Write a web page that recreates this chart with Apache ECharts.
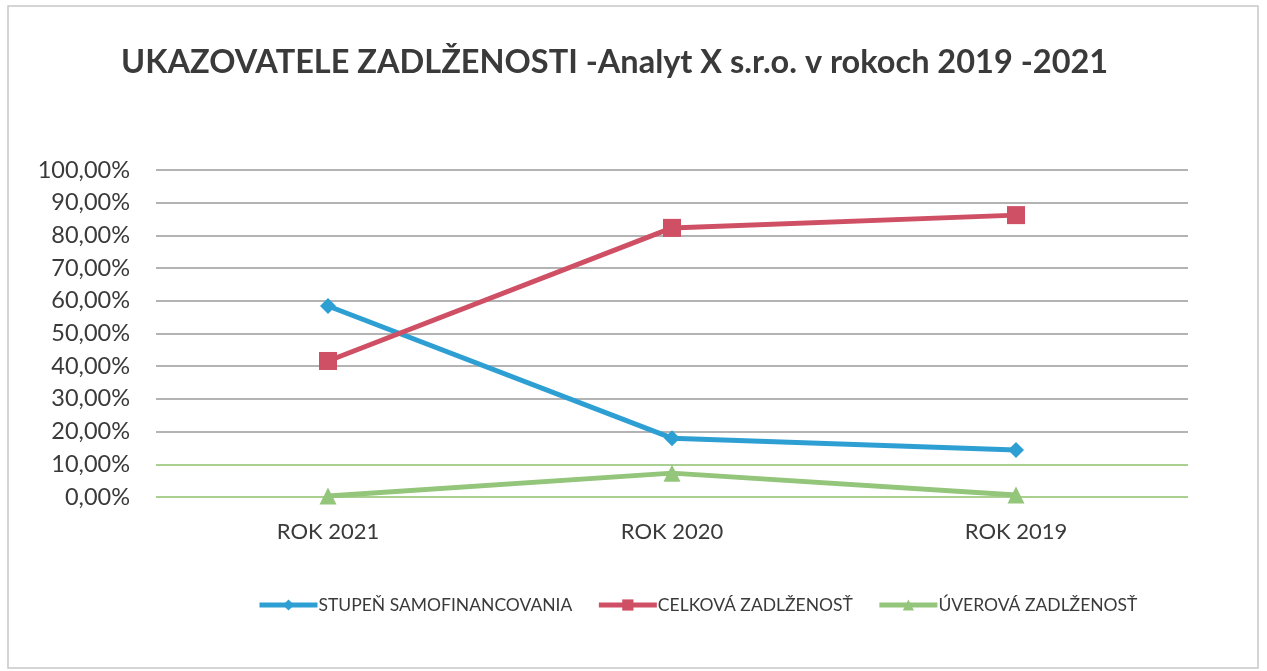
<!DOCTYPE html>
<html>
<head>
<meta charset="utf-8">
<title>Ukazovatele zadlženosti</title>
<script src="https://cdn.jsdelivr.net/npm/echarts@6/dist/echarts.min.js"></script>
<style>
  html, body { margin: 0; padding: 0; background: #fff; }
  #chart { width: 1267px; height: 671px; }
</style>
</head>
<body>
<div id="chart"></div>
<script>
var categories = ['ROK 2021', 'ROK 2020', 'ROK 2019'];
var samofinancovanie = [58.4, 18.0, 14.4];
var celkovaZadlzenost = [41.6, 82.3, 86.2];
var uverovaZadlzenost = [0.3, 7.3, 0.6];

var seriesNames = ['STUPEŇ SAMOFINANCOVANIA', 'CELKOVÁ ZADLŽENOSŤ', 'ÚVEROVÁ ZADLŽENOSŤ'];

function pct(v) {
    return v.toFixed(2).replace('.', ',') + '%';
}

var chart = echarts.init(document.getElementById('chart'));

// gray gridlines, the 0 % and 10 % ones look green in the scan
var gridColors = ['#8dc16b', '#8dc16b', '#9a9a9a', '#9a9a9a', '#9a9a9a', '#9a9a9a',
    '#9a9a9a', '#9a9a9a', '#9a9a9a', '#9a9a9a', '#9a9a9a'];

var option = {
    backgroundColor: '#fff',
    animation: false,
    textStyle: { fontFamily: 'Lato' },
    title: {
        text: 'UKAZOVATELE ZADLŽENOSTI -Analyt X s.r.o. v rokoch 2019 -2021',
        left: 116,
        top: 41,
        textStyle: {
            fontFamily: 'Lato',
            fontWeight: 'bold',
            fontSize: 32.5,
            color: '#3a3a3a'
        }
    },
    legend: {
        bottom: 52,
        left: 252,
        itemWidth: 58,
        itemHeight: 14,
        itemGap: 24,
        lineStyle: { width: 5 },
        textStyle: { fontFamily: 'Lato', fontSize: 17.5, color: '#3a3a3a', padding: [0, 0, 0, -4] },
        data: seriesNames
    },
    grid: {
        left: 156,
        right: 79,
        top: 170,
        bottom: 174,
        containLabel: false
    },
    xAxis: {
        type: 'category',
        data: categories,
        boundaryGap: true,
        axisLine: { show: false },
        axisTick: { show: false },
        axisLabel: { fontFamily: 'Lato', fontSize: 22, color: '#3a3a3a', margin: 24 }
    },
    yAxis: {
        type: 'value',
        min: 0,
        max: 100,
        interval: 10,
        axisLine: { show: false },
        axisTick: { show: false },
        axisLabel: {
            fontFamily: 'Lato',
            fontSize: 23.5,
            color: '#3a3a3a',
            margin: 26,
            formatter: function (v) { return pct(v); }
        },
        splitLine: { lineStyle: { color: gridColors, width: 1.5 } }
    },
    series: [
        {
            name: seriesNames[0],
            type: 'line',
            data: samofinancovanie,
            symbol: 'diamond',
            symbolSize: 16,
            lineStyle: { width: 5, color: '#2e9fd3' },
            itemStyle: { color: '#2e9fd3' }
        },
        {
            name: seriesNames[1],
            type: 'line',
            data: celkovaZadlzenost,
            symbol: 'rect',
            symbolSize: 18,
            lineStyle: { width: 5, color: '#cf4f64' },
            itemStyle: { color: '#cf4f64' }
        },
        {
            name: seriesNames[2],
            type: 'line',
            data: uverovaZadlzenost,
            symbol: 'triangle',
            symbolSize: 17,
            lineStyle: { width: 5, color: '#93c57a' },
            itemStyle: { color: '#93c57a' }
        }
    ],
    graphic: [
        {
            type: 'rect',
            shape: { x: 8, y: 6, width: 1250, height: 662 },
            style: { fill: 'none', stroke: '#c8c8c8', lineWidth: 1.5 },
            silent: true
        }
    ]
};

chart.setOption(option);
</script>
</body>
</html>
